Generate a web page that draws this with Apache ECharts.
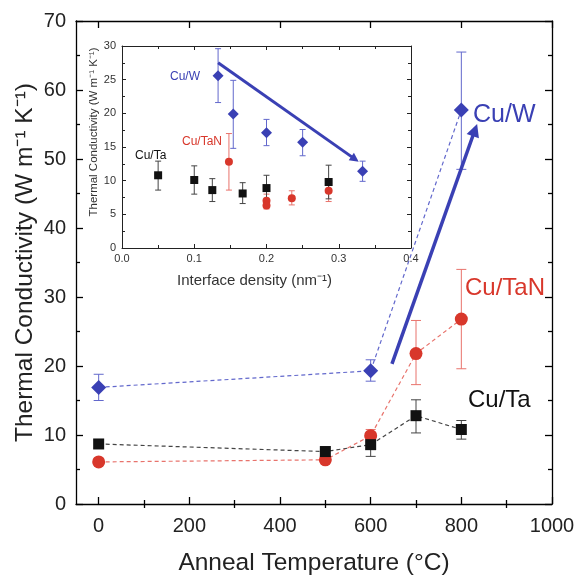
<!DOCTYPE html>
<html><head><meta charset="utf-8">
<script src="https://cdn.jsdelivr.net/npm/echarts@6/dist/echarts.min.js"></script>
<style>html,body{margin:0;padding:0;background:#fff}#c{width:576px;height:575px}</style>
</head><body><div id="c"></div>
<script>
// ---------- main chart data ----------
const tempTicks = [0, 200, 400, 600, 800, 1000];
const tempMinor = [100, 300, 500, 700, 900];
const tempC = [0, 500, 600, 700, 800];
const cuW_T = [0, 600, 800];
const cuW = [16.9, 19.3, 57.1];
const cuW_lo = [15.0, 17.8, 48.5];
const cuW_hi = [18.8, 20.9, 65.5];
const cuTaN = [6.1, 6.4, 9.9, 21.8, 26.8];
const cuTaN_lo = [5.6, 5.9, 9.0, 17.3, 19.6];
const cuTaN_hi = [6.6, 6.9, 10.8, 26.6, 34.0];
const cuTa = [8.7, 7.6, 8.6, 12.8, 10.8];
const cuTa_lo = [8.1, 6.9, 6.9, 10.3, 9.4];
const cuTa_hi = [9.3, 8.3, 10.3, 15.1, 12.1];
const mainArrow = [[647, 20.3], [830, 54.2]];
// ---------- inset data ----------
const iW_x = [0.133, 0.154, 0.2, 0.25, 0.333];
const iW = [25.6, 19.9, 17.1, 15.7, 11.4];
const iW_lo = [21.6, 14.8, 15.2, 13.7, 9.9];
const iW_hi = [29.6, 24.9, 19.1, 17.6, 12.9];
const iTa_x = [0.05, 0.1, 0.125, 0.167, 0.2, 0.286];
const iTa = [10.8, 10.1, 8.6, 8.1, 8.9, 9.8];
const iTa_lo = [8.6, 8.0, 6.9, 6.6, 7.1, 7.3];
const iTa_hi = [12.9, 12.2, 10.3, 9.7, 10.8, 12.3];
const iTaN_x = [0.148, 0.2, 0.2, 0.235, 0.286];
const iTaN = [12.8, 7.0, 6.3, 7.4, 8.5];
const iTaN_lo = [8.6, 6.0, 5.8, 6.4, 6.9];
const iTaN_hi = [17.0, 8.0, 6.8, 8.5, 10.1];
const insetArrow = [[0.133, 27.5], [0.3225, 13.2]];

const FONT = "'Liberation Sans', Arial, sans-serif";
const BLUE = '#3a40b4', BLUE_L = '#6268cc';
const RED = '#d8372b', RED_L = '#e8736c';
const BLK = '#111111', BLK_L = '#444444';

const zip = (xs, ys) => xs.map((x, i) => [x, ys[i]]);
const zip3 = (xs, a, b) => xs.map((x, i) => [x, a[i], b[i]]);

function errSeries(name, xi, yi, data, color, cap, z) {
  return {
    type: 'custom', name, xAxisIndex: xi, yAxisIndex: yi, z,
    data, encode: {x: 0, y: [1, 2]},
    renderItem: function (params, api) {
      const x = api.value(0), lo = api.value(1), hi = api.value(2);
      const p1 = api.coord([x, lo]), p2 = api.coord([x, hi]);
      const st = {stroke: color, lineWidth: 1};
      return {type: 'group', children: [
        {type: 'line', shape: {x1: p1[0], y1: p1[1], x2: p2[0], y2: p2[1]}, style: st},
        {type: 'line', shape: {x1: p1[0] - cap, y1: p1[1], x2: p1[0] + cap, y2: p1[1]}, style: st},
        {type: 'line', shape: {x1: p2[0] - cap, y1: p2[1], x2: p2[0] + cap, y2: p2[1]}, style: st}
      ]};
    }
  };
}
function dashSeries(xi, yi, data, color, z) {
  return {type: 'line', xAxisIndex: xi, yAxisIndex: yi, data, symbol: 'none', z,
    lineStyle: {color, width: 1.2, type: [4, 3]}, silent: true};
}
function markSeries(xi, yi, data, symbol, size, color, z) {
  return {type: 'scatter', xAxisIndex: xi, yAxisIndex: yi, data, symbol, symbolSize: size, z,
    itemStyle: {color, opacity: 1}};
}

const axLine = {show: true, onZero: false, lineStyle: {color: '#000', width: 1.3}};
function mainX(position, ticks, len, showLabel, showLine) {
  return {gridIndex: 0, type: 'value', min: -50, max: 1000, position,
    axisLine: showLine ? axLine : {show: false},
    axisTick: {show: true, inside: true, length: len, customValues: ticks, lineStyle: {color: '#000', width: 1.3}},
    axisLabel: showLabel ? {show: true, customValues: ticks, fontSize: 20, color: '#222', fontFamily: FONT, margin: 12,
      formatter: v => String(v)} : {show: false},
    splitLine: {show: false}};
}
function mainY(position, showLabel) {
  return {gridIndex: 0, type: 'value', min: 0, max: 70, interval: 10, position,
    axisLine: axLine,
    axisTick: {show: true, inside: true, length: 7, lineStyle: {color: '#000', width: 1.3}},
    minorTick: {show: true, splitNumber: 2, length: 4, lineStyle: {color: '#000', width: 1.3}},
    axisLabel: showLabel ? {show: true, fontSize: 20, color: '#222', fontFamily: FONT, margin: 10} : {show: false},
    splitLine: {show: false}};
}
function insX(position, showLabel) {
  return {gridIndex: 1, type: 'value', min: 0, max: 0.4, interval: 0.1, position,
    axisLine: {show: true, onZero: false, lineStyle: {color: '#222', width: 1}},
    axisTick: {show: true, inside: true, length: 4, lineStyle: {color: '#222'}},
    minorTick: {show: true, splitNumber: 2, length: 3, lineStyle: {color: '#222'}},
    axisLabel: showLabel ? {show: true, fontSize: 11, color: '#333', fontFamily: FONT, margin: 5,
      formatter: v => v.toFixed(1)} : {show: false},
    splitLine: {show: false}};
}
function insY(position, showLabel) {
  return {gridIndex: 1, type: 'value', min: 0, max: 30, interval: 5, position,
    axisLine: {show: true, onZero: false, lineStyle: {color: '#222', width: 1}},
    axisTick: {show: true, inside: true, length: 4, lineStyle: {color: '#222'}},
    minorTick: {show: true, splitNumber: 2, length: 3, lineStyle: {color: '#222'}},
    axisLabel: showLabel ? {show: true, fontSize: 11, color: '#333', fontFamily: FONT, margin: 6} : {show: false},
    splitLine: {show: false}};
}

const xAxes = [
  Object.assign(mainX('bottom', tempTicks, 7, true, true), {
    name: 'Anneal Temperature (°C)', nameLocation: 'middle', nameGap: 47, nameMoveOverlap: false,
    nameTextStyle: {fontSize: 24.5, color: '#222', fontFamily: FONT}}),
  mainX('bottom', tempMinor, 4, false, false),
  mainX('top', tempTicks, 7, false, true),
  mainX('top', tempMinor, 4, false, false),
  Object.assign(insX('bottom', true), {
    name: 'Interface density (nm⁻¹)', nameLocation: 'middle', nameGap: 25, nameMoveOverlap: false,
    nameTextStyle: {fontSize: 15, color: '#333', fontFamily: FONT, padding: [0, 24, 0, 0]}}),
  insX('top', false)
];
const yAxes = [
  Object.assign(mainY('left', true), {
    name: 'Thermal Conductivity (W m⁻¹ K⁻¹)', nameLocation: 'middle', nameGap: 38, nameMoveOverlap: false,
    nameTextStyle: {fontSize: 24.5, color: '#222', fontFamily: FONT}}),
  mainY('right', false),
  Object.assign(insY('left', true), {
    name: 'Thermal Conductivity (W m⁻¹ K⁻¹)', nameLocation: 'middle', nameGap: 22, nameMoveOverlap: false,
    nameTextStyle: {fontSize: 11.5, color: '#333', fontFamily: FONT, padding: [0, 0, 0, 30]}}),
  insY('right', false)
];

const series = [
  // main
  dashSeries(0, 0, zip(cuW_T, cuW), BLUE_L, 2),
  dashSeries(0, 0, zip(tempC, cuTa), BLK_L, 2),
  dashSeries(0, 0, zip(tempC, cuTaN), RED_L, 2),
  errSeries('eW', 0, 0, zip3(cuW_T, cuW_lo, cuW_hi), BLUE_L, 5, 3),
  errSeries('eTaN', 0, 0, zip3(tempC, cuTaN_lo, cuTaN_hi), RED_L, 5, 3),
  errSeries('eTa', 0, 0, zip3(tempC, cuTa_lo, cuTa_hi), BLK_L, 5, 3),
  markSeries(0, 0, zip(tempC, cuTaN), 'circle', 13, RED, 4),
  markSeries(0, 0, zip(tempC, cuTa), 'rect', 11, BLK, 5),
  markSeries(0, 0, zip(cuW_T, cuW), 'diamond', 15, BLUE, 5),
  {type: 'lines', coordinateSystem: 'cartesian2d', xAxisIndex: 0, yAxisIndex: 0, z: 6,
    symbol: ['none', 'triangle'], symbolSize: 13,
    lineStyle: {color: BLUE, width: 3.5, opacity: 1, curveness: 0},
    data: [{coords: mainArrow}]},
  // inset
  errSeries('ieW', 4, 2, zip3(iW_x, iW_lo, iW_hi), BLUE_L, 3, 3),
  errSeries('ieTaN', 4, 2, zip3(iTaN_x, iTaN_lo, iTaN_hi), RED_L, 3, 3),
  errSeries('ieTa', 4, 2, zip3(iTa_x, iTa_lo, iTa_hi), BLK_L, 3, 3),
  markSeries(4, 2, zip(iTaN_x, iTaN), 'circle', 8, RED, 4),
  markSeries(4, 2, zip(iTa_x, iTa), 'rect', 8, BLK, 5),
  markSeries(4, 2, zip(iW_x, iW), 'diamond', 11, BLUE, 5),
  {type: 'lines', coordinateSystem: 'cartesian2d', xAxisIndex: 4, yAxisIndex: 2, z: 6,
    symbol: ['none', 'triangle'], symbolSize: 9,
    lineStyle: {color: BLUE, width: 3, opacity: 1, curveness: 0},
    data: [{coords: insetArrow}]}
];

const txt = (x, y, s, size, color) => ({type: 'text', left: x, top: y, z: 10,
  style: {text: s, fontSize: size, fill: color, fontFamily: FONT}});

const option = {
  animation: false,
  backgroundColor: '#fff',
  grid: [
    {left: 76, right: 24, top: 21, bottom: 71, outerBoundsMode: 'none', containLabel: false},
    {left: 122, top: 46, width: 289, height: 202, outerBoundsMode: 'none', containLabel: false}
  ],
  xAxis: xAxes,
  yAxis: yAxes,
  series,
  graphic: [
    txt(473, 103, 'Cu/W', 25, BLUE),
    txt(465, 276, 'Cu/TaN', 24, RED),
    txt(468, 388, 'Cu/Ta', 24, BLK),
    txt(170, 71, 'Cu/W', 12, BLUE),
    txt(182, 136, 'Cu/TaN', 12, RED),
    txt(135, 150, 'Cu/Ta', 12, BLK)
  ]
};
const chart = echarts.init(document.getElementById('c'), null, {renderer: 'canvas'});
chart.setOption(option);
</script></body></html>
